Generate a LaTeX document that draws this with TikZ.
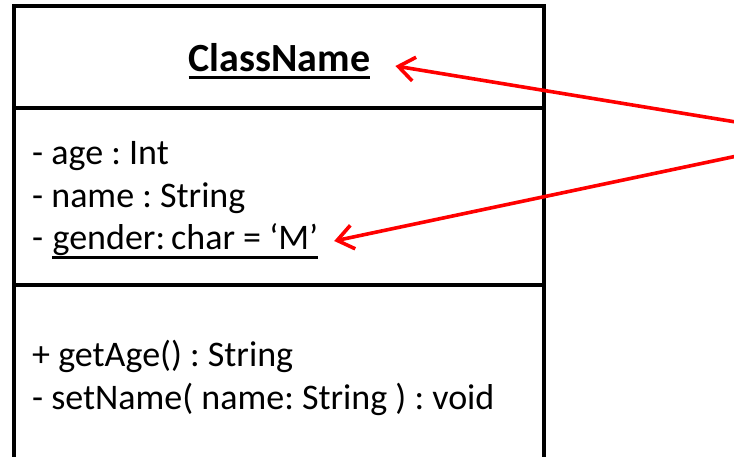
\documentclass[tikz,border=0pt]{standalone}
\usepackage{fontspec}
\setmainfont{Carlito}
\usetikzlibrary{arrows.meta,calc}
\frenchspacing
\tikzset{
  boxline/.style={line width=3.6pt, black, line join=miter},
  sepline/.style={line width=3.6pt, black},
  member/.style={anchor=base west, inner sep=0pt, font=\fontsize{36}{43}\selectfont},
  title/.style={anchor=base, inner sep=0pt, font=\fontsize{40}{48}\selectfont\bfseries},
  uline/.style={line width=2.2pt, black},
  tuline/.style={line width=3.4pt, black},
  pointer/.style={red, line width=3.6pt, -{Straight Barb[length=16pt,width=24pt,line width=3.6pt]}}
}
\begin{document}
\frenchspacing
\begin{tikzpicture}[x=1pt,y=-1pt]
\useasboundingbox (0,0) rectangle (734,457);
\fill[white] (0,0) rectangle (734,457);
\begin{scope}
\clip (0,0) rectangle (734,457);
% class box
\draw[boxline] (14,475) -- (14,6) -- (544,6) -- (544,475);
\draw[sepline] (14,108) -- (544,108);
\draw[sepline] (14,285) -- (544,285);
% title
\node[title] (cn) at (279.5,72) {ClassName};
\draw[tuline] ($(cn.base west)+(0,5.5)$) -- ($(cn.base east)+(0,5.5)$);
% attributes
\node[member] (a1) at (32,165) {- age : Int};
\node[member] (a2) at (32,208) {- name : String};
\node[member] (a3) at (32,250) {-};
\node[member, anchor=base west] (a3u) at ($(a3.base east)+(9,0)$) {gender:\,char = ‘M’};
\draw[uline] ($(a3u.base west)+(0,7.5)$) -- ($(a3u.base east)+(0,7.5)$);
% operations
\node[member] (m1) at (32,366) {+ getAge() : String};
\node[member] (m2) at (32,409) {- setName( name: String ) : void};
% pointers
\coordinate (src) at (827,137);
\path (cn.base east) ++(25,-6) coordinate (t1);
\path (a3u.base east) ++(16,-9) coordinate (t2);
\draw[pointer] (src) -- (t1);
\draw[pointer] (src) -- (t2);
\end{scope}
\end{tikzpicture}
\end{document}
